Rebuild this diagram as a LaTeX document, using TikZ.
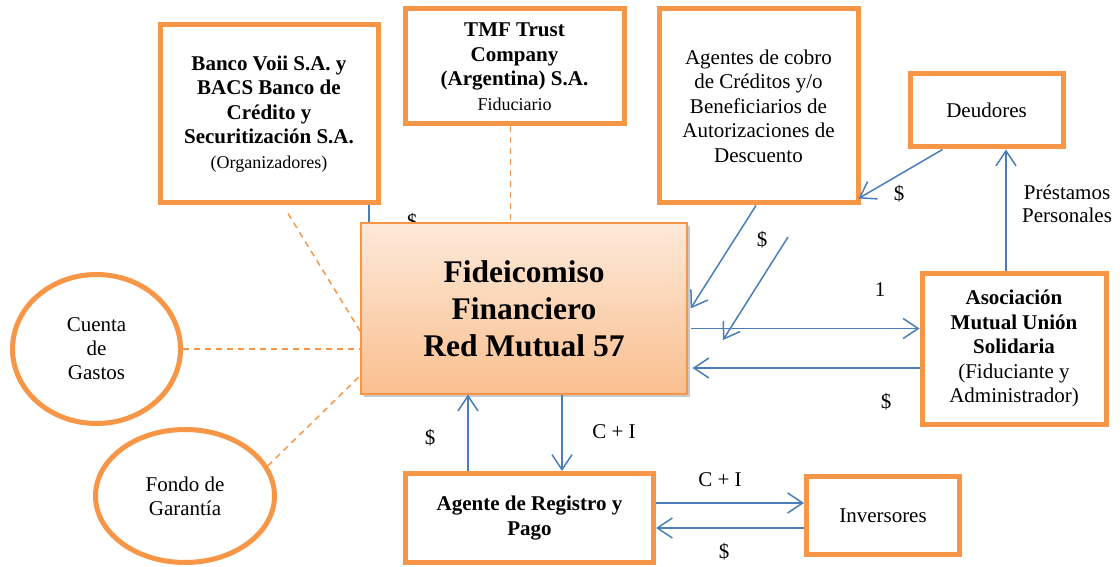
\documentclass[tikz,border=0pt]{standalone}
\usepackage{fontspec}
\setmainfont{Liberation Serif}
\usetikzlibrary{positioning,shapes.geometric,arrows.meta,calc,shadows}
\definecolor{boxorange}{HTML}{F79646}
\definecolor{flowblue}{HTML}{4A7EBB}
\definecolor{fidetop}{HTML}{FDE9D9}
\definecolor{fidebottom}{HTML}{FABF8F}
\tikzset{
	box/.style={draw=boxorange, line width=5pt, fill=white, inner sep=0pt, align=center, font=\fontsize{21}{24.5}\selectfont},
	fund/.style={ellipse, draw=boxorange, line width=5pt, fill=white, inner sep=0pt, align=center, font=\fontsize{21}{24}\selectfont},
	fidebox/.style={draw=boxorange, line width=1.2pt, top color=fidetop, bottom color=fidebottom, inner sep=0pt, align=center,
		drop shadow={shadow xshift=3pt, shadow yshift=-3pt, opacity=0.35, fill=black!60},
		font=\fontsize{31.5}{37}\selectfont\bfseries},
	flow/.style={->, >={Straight Barb[length=15pt,width=20pt]}, color=flowblue, line width=1.5pt},
	link/.style={dash pattern=on 6pt off 5pt, color=boxorange, line width=1.5pt},
	money/.style={font=\fontsize{21}{23}\selectfont, inner sep=0pt, align=center}
}

\begin{document}
\begin{tikzpicture}[x=1pt, y=-1pt]
		\useasboundingbox (0,0) rectangle (1120,567);

		\node [box, minimum width=218pt, minimum height=178pt] (banco) at (269, 114) {\textbf{Banco Voii S.A. y}\\\textbf{BACS Banco de}\\\textbf{Crédito y}\\\textbf{Securitización S.A.}\\{\fontsize{18}{21}\selectfont (Organizadores)}};
		\node [box, minimum width=219pt, minimum height=115pt] (tmf) at (514.5, 66.5) {\textbf{TMF Trust}\\\textbf{Company}\\\textbf{(Argentina) S.A.}\\{\fontsize{18}{21}\selectfont Fiduciario}};
		\node [box, minimum width=199pt, minimum height=194pt] (agentes) at (758.5, 106) {Agentes de cobro\\de Créditos y/o\\Beneficiarios de\\Autorizaciones de\\Descuento};
		\node [box, minimum width=153pt, minimum height=73pt] (deudores) at (986.5, 110.5) {Deudores};
		\node [box, minimum width=184pt, minimum height=151pt] (asoc) at (1014, 348.5) {\textbf{Asociación}\\\textbf{Mutual Unión}\\\textbf{Solidaria}\\(Fiduciante y\\Administrador)};
		\node [box, minimum width=248pt, minimum height=89pt] (pago) at (529.5, 518) {\textbf{Agente de Registro y}\\\textbf{Pago}};
		\node [box, minimum width=153pt, minimum height=78pt] (inv) at (883, 515.5) {Inversores};
		\node [fund, minimum width=168pt, minimum height=149pt] (cuenta) at (96.5, 349) {Cuenta\\de\\Gastos};
		\node [fund, minimum width=179pt, minimum height=133pt] (fondo) at (185, 496) {Fondo de\\Garantía};

		% label half hidden behind the trust box
		\node [money] (hidden) at (412, 222) {\$};
		\draw [flowblue, line width=1.5pt] ([xshift=100pt]banco.south) -- ++(0,20);

		\node [fidebox, minimum width=326pt, minimum height=171pt] (fide) at (524, 308.5) {Fideicomiso\\Financiero\\Red Mutual 57};

		% dashed links
		\draw [link] ([xshift=-4pt]tmf.south) -- ([xshift=-4pt]tmf.south |- fide.north);
		\draw [link] ($(banco.south)+(19,8)$) -- ($(fide.west)+(0,23)$);
		\draw [link] (cuenta.east) -- (cuenta.east -| fide.west);
		\draw [link] (fondo.20) -- ($(fide.west)+(0,67)$);

		% flows
		\coordinate (collA) at ([xshift=-2.5pt]agentes.south);
		\coordinate (collB) at (788, 237);
		\coordinate (collC) at (723, 340);
		\coordinate (outA) at ($(fide.east)+(3,20)$);
		\coordinate (inA) at ($(asoc.west)+(0,19.5)$);
		\coordinate (loanA) at ([xshift=-8pt]asoc.north);
		\coordinate (ciA) at ([xshift=38pt]fide.south);
		\coordinate (payA) at ([xshift=-56pt]fide.south);
		\coordinate (ciB) at ([yshift=15pt]pago.east);
		\coordinate (payB) at ([yshift=-10pt]pago.east);

		\draw [flow] (collA) to ($(fide.east)+(3,0)$);
		\draw [flow] (collB) to (collC);
		\draw [flow] (outA) to (outA -| asoc.west);
		\draw [flow] (inA) to ($(inA -| fide.east)+(5,0)$);
		\draw [flow] ($(deudores.south)+(-44,0)$) to ($(agentes.south east)+(-2,-7)$);
		\draw [flow] (loanA) to (loanA |- deudores.south);
		\draw [flow] (ciA) to (ciA |- pago.north);
		\draw [flow] (payA |- pago.north) to (payA);
		\draw [flow] (ciB) to (ciB -| inv.west);
		\draw [flow] (payB -| inv.west) to (payB);

		% flow labels
		\node [money] (m1) at (899, 194) {\$};
		\node [money] (m2) at (762, 240) {\$};
		\node [money] (one) at (880, 290) {1};
		\node [money] (m3) at (886, 402) {\$};
		\node [money] (loans) at (1067, 204) {Préstamos\\Personales};
		\node [money] (m4) at (430, 438) {\$};
		\node [money] (ci1) at (614, 432) {C + I};
		\node [money] (ci2) at (720, 480) {C + I};
		\node [money] (m5) at (724, 552) {\$};
\end{tikzpicture}
\end{document}
